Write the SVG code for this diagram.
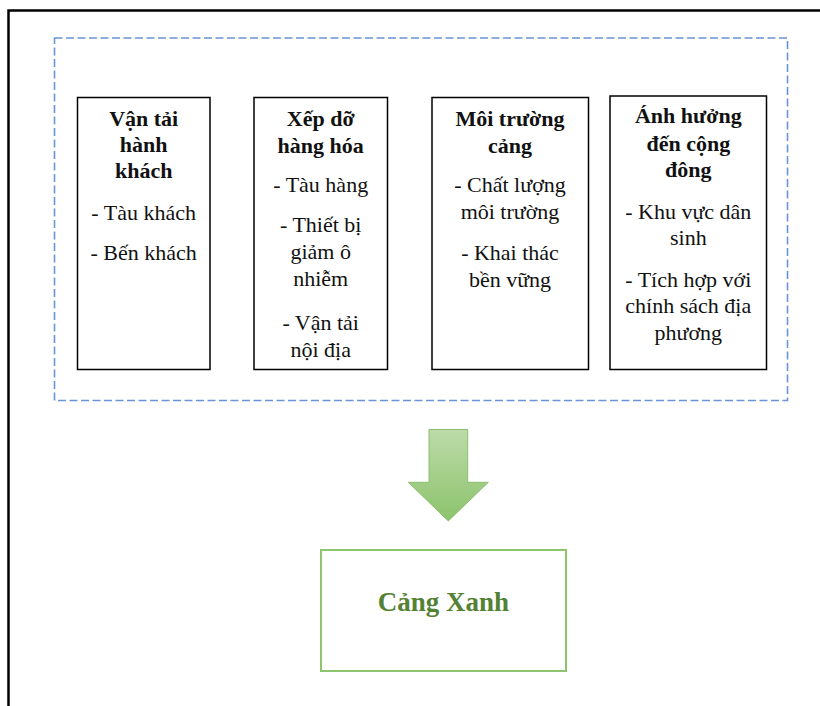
<svg xmlns="http://www.w3.org/2000/svg" width="820" height="706" viewBox="0 0 820 706">
  <defs>
    <style>
      .frame { fill: none; stroke: #000; stroke-width: 2.5; }
      .group { fill: none; stroke: #6a93d8; stroke-width: 1.6; stroke-dasharray: 8 3.5; }
      .box { fill: #fff; stroke: #000; stroke-width: 1.5; }
      .t { font-family: "Liberation Serif", "Times New Roman", serif; font-size: 22px; fill: #111; text-anchor: middle; }
      .h { font-weight: bold; }
      .result { fill: #fff; stroke: #8dc46e; stroke-width: 2; }
      .result-label { font-family: "Liberation Serif", "Times New Roman", serif; font-size: 27px; font-weight: bold; fill: #548235; text-anchor: middle; }
    </style>
    <linearGradient id="arrowFill" x1="0" y1="0" x2="0" y2="1">
      <stop offset="0" stop-color="#bcdba8"/>
      <stop offset="1" stop-color="#8cc36c"/>
    </linearGradient>
  </defs>

  <rect width="820" height="706" fill="#fff"/>

  <!-- outer page frame, open to the right and bottom edges -->
  <rect class="frame" x="8.5" y="10.5" width="830" height="720"/>

  <!-- dashed grouping box -->
  <rect class="group" x="54.5" y="38" width="733" height="362.5"/>

  <g id="node-passenger">
    <rect class="box" x="77.5" y="97.5" width="132.5" height="272"/>
    <text class="t h" x="143.7" y="126">Vận tải</text>
    <text class="t h" x="143.7" y="152">hành</text>
    <text class="t h" x="143.7" y="178">khách</text>
    <text class="t" x="143.7" y="220">- Tàu khách</text>
    <text class="t" x="143.7" y="260">- Bến khách</text>
  </g>

  <g id="node-cargo">
    <rect class="box" x="254" y="97.5" width="133.5" height="272"/>
    <text class="t h" x="320.7" y="126">Xếp dỡ</text>
    <text class="t h" x="320.7" y="153">hàng hóa</text>
    <text class="t" x="320.7" y="192">- Tàu hàng</text>
    <text class="t" x="320.7" y="232">- Thiết bị</text>
    <text class="t" x="320.7" y="259">giảm ô</text>
    <text class="t" x="320.7" y="286">nhiễm</text>
    <text class="t" x="320.7" y="330">- Vận tải</text>
    <text class="t" x="320.7" y="357">nội địa</text>
  </g>

  <g id="node-environment">
    <rect class="box" x="432" y="97.5" width="156.5" height="272"/>
    <text class="t h" x="510" y="126">Môi trường</text>
    <text class="t h" x="510" y="153">cảng</text>
    <text class="t" x="510" y="192">- Chất lượng</text>
    <text class="t" x="510" y="219">môi trường</text>
    <text class="t" x="510" y="260">- Khai thác</text>
    <text class="t" x="510" y="287">bền vững</text>
  </g>

  <g id="node-community">
    <rect class="box" x="610" y="96" width="156.5" height="273.5"/>
    <text class="t h" x="688.3" y="123">Ánh hưởng</text>
    <text class="t h" x="688.3" y="151">đến cộng</text>
    <text class="t h" x="688.3" y="177">đông</text>
    <text class="t" x="688.3" y="219">- Khu vực dân</text>
    <text class="t" x="688.3" y="245">sinh</text>
    <text class="t" x="688.3" y="287">- Tích hợp với</text>
    <text class="t" x="688.3" y="313">chính sách địa</text>
    <text class="t" x="688.3" y="340">phương</text>
  </g>

  <g id="connectors">
    <polygon points="429,429.5 467.7,429.5 467.7,482.3 488.3,482.3 448.3,521 408.3,482.3 429,482.3"
             fill="url(#arrowFill)" stroke="#8cbf6c" stroke-width="1"/>
  </g>

  <g id="node-green-port">
    <rect class="result" x="321" y="550" width="245" height="121"/>
    <text class="result-label" x="443.5" y="611">Cảng Xanh</text>
  </g>
</svg>
